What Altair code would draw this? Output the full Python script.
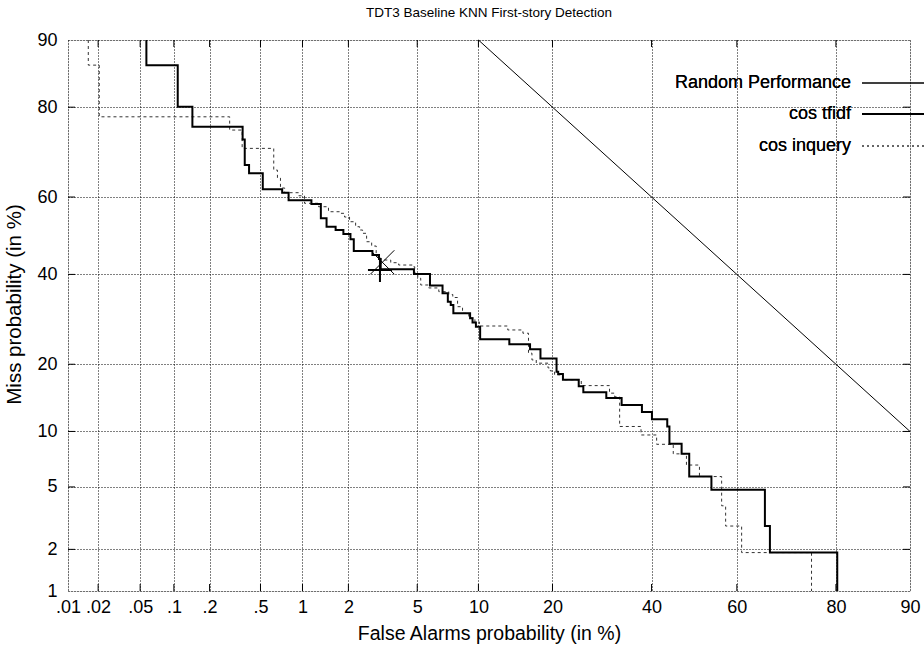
import altair as alt
import pandas as pd
from statistics import NormalDist

_norm = NormalDist()


def deviate(pct):
    """Normal deviate of a probability given in percent (DET axis warping)."""
    return _norm.inv_cdf(pct / 100.0)


# ---- axis ranges and ticks (percent) ----
fa_range = [0.01, 90.0]
miss_range = [1.0, 90.0]
x_ticks = [0.01, 0.02, 0.05, 0.1, 0.2, 0.5, 1, 2, 5, 10, 20, 40, 60, 80, 90]
x_tick_labels = [".01", ".02", ".05", ".1", ".2", ".5", "1", "2", "5",
                 "10", "20", "40", "60", "80", "90"]
y_ticks = [1, 2, 5, 10, 20, 40, 60, 80, 90]
y_tick_labels = ["1", "2", "5", "10", "20", "40", "60", "80", "90"]

# ---- DET curves: false alarm % / miss % at each step corner ----
tfidf_fa = [0.057, 0.108, 0.144, 0.366, 0.38, 0.41, 0.52, 0.72, 0.80, 1.15,
            1.33, 1.45, 1.66, 1.86, 2.06, 2.16, 2.80, 3.06, 3.13, 4.8,
            5.83, 6.75, 7.17, 7.41, 7.63, 9.16, 9.40, 9.74, 10.18, 13.61,
            16.48, 18.06, 20.68, 20.96, 21.78, 24.64, 25.51, 30.08, 33.32, 37.81,
            40.09, 43.64, 44.15, 47.02, 48.82, 54.07, 66.27, 67.35, 80.22, 80.22]
tfidf_miss = [90.0, 86.8, 80.1, 76.22, 73.58, 67.81, 65.85, 61.94, 61.09, 59.16,
              58.22, 54.56, 52.35, 51.49, 50.44, 49.06, 46.01, 44.98, 43.94, 41.3,
              40.11, 37.23, 35.32, 33.30, 32.52, 30.57, 29.45, 28.47, 27.57, 24.9,
              23.86, 22.88, 21.07, 18.67, 18.27, 17.27, 16.22, 15.28, 14.38, 13.39,
              12.41, 11.47, 10.58, 8.65, 7.66, 5.74, 4.81, 2.865, 1.90, 1.0]

inquery_fa = [0.016, 0.0205, 0.290, 0.363, 0.626, 0.666, 0.70, 0.75, 0.942, 1.032,
              1.283, 1.493, 1.786, 1.892, 2.033, 2.217, 2.345, 2.445, 2.585, 2.771,
              2.946, 3.127, 3.575, 3.961, 4.728, 4.846, 5.029, 5.217, 5.745, 6.464,
              7.247, 7.582, 7.995, 8.443, 9.035, 9.639, 10.10, 13.41, 15.45, 16.25,
              16.76, 17.41, 19.26, 19.64, 20.35, 21.78, 25.12, 30.75, 31.82, 32.89,
              37.6, 41.17, 45.05, 48.16, 51.24, 56.47, 57.4, 61.09, 75.7, 75.7]
inquery_miss = [90.0, 86.8, 78.19, 75.55, 71.63, 66.63, 64.71, 62.27, 61.09, 60.32,
                58.41, 57.53, 56.24, 55.83, 54.87, 53.65, 52.35, 51.49, 50.63, 48.43,
                47.31, 44.72, 43.68, 42.99, 42.39, 41.95, 40.29, 39.02, 37.35, 36.62,
                35.71, 35.02, 34.29, 32.11, 30.57, 29.52, 28.62, 27.72, 26.86, 26.16,
                22.09, 20.80, 20.20, 19.34, 18.80, 18.10, 17.27, 16.32, 15.13, 14.58,
                10.58, 9.60, 8.6, 7.66, 6.66, 5.74, 3.85, 2.865, 1.90, 1.0]

random_fa = [10.0, 90.0]
random_miss = [90.0, 10.0]

# minimum detection-cost operating points
min_cost_tfidf = {"fa": 3.10, "miss": 41.1}
min_cost_inquery = {"fa": 3.20, "miss": 43.1}

series_names = ["Random Performance", "cos tfidf", "cos inquery"]


def frame(fa, miss):
    return pd.DataFrame({
        "i": range(len(fa)),
        "fa": fa,
        "miss": miss,
        "zx": [deviate(v) for v in fa],
        "zy": [deviate(v) for v in miss],
    })


tfidf_df = frame(tfidf_fa, tfidf_miss)
inquery_df = frame(inquery_fa, inquery_miss)
random_df = frame(random_fa, random_miss)
cost_tfidf_df = frame([min_cost_tfidf["fa"]], [min_cost_tfidf["miss"]])
cost_inquery_df = frame([min_cost_inquery["fa"]], [min_cost_inquery["miss"]])

x_inner = pd.DataFrame({"zx": [deviate(v) for v in x_ticks[1:-1]]})
y_inner = pd.DataFrame({"zy": [deviate(v) for v in y_ticks[1:-1]]})

W, H = 842, 551
FONT = "Liberation Sans"


def label_expr(values, labels):
    expr = "''"
    for v, lab in reversed(list(zip(values, labels))):
        expr = f"abs(datum.value - ({deviate(v):.6f})) < 0.001 ? '{lab}' : ({expr})"
    return expr


x_scale = alt.Scale(domain=[deviate(fa_range[0]), deviate(fa_range[1])], nice=False, zero=False)
y_scale = alt.Scale(domain=[deviate(miss_range[0]), deviate(miss_range[1])], nice=False, zero=False)

x_axis = alt.Axis(
    values=[deviate(v) for v in x_ticks],
    labelExpr=label_expr(x_ticks, x_tick_labels),
    title="False Alarms probability (in %)",
    grid=True, ticks=False, domain=False,
    labelFont=FONT, labelFontSize=18, labelColor="black", labelPadding=7,
    labelFlush=False, labelOverlap=False,
    titleFont=FONT, titleFontSize=19.5, titleFontWeight="normal", titleColor="black",
    titleBaseline="middle", titleY=42,
    gridColor="black", gridDash=[1, 2], gridWidth=1, gridOpacity=1,
)
y_axis = alt.Axis(
    values=[deviate(v) for v in y_ticks],
    labelExpr=label_expr(y_ticks, y_tick_labels),
    title="Miss probability (in %)",
    grid=True, ticks=False, domain=False,
    labelFont=FONT, labelFontSize=18, labelColor="black", labelPadding=11,
    labelFlush=False, labelOverlap=False,
    titleFont=FONT, titleFontSize=20.5, titleFontWeight="normal", titleColor="black",
    titleX=-54, titleY=264, titleBaseline="middle", titleAngle=-90,
    gridColor="black", gridDash=[1, 2], gridWidth=1, gridOpacity=1,
)


def X():
    return alt.X("zx:Q", scale=x_scale, axis=x_axis)


def Y():
    return alt.Y("zy:Q", scale=y_scale, axis=y_axis)


random_line = alt.Chart(random_df).mark_line(color="black", strokeWidth=1).encode(
    x=X(), y=Y(), order="i:Q")

inquery_line = alt.Chart(inquery_df).mark_line(
    color="#333333", strokeWidth=1, strokeDash=[3, 3], interpolate="step-before"
).encode(x=X(), y=Y(), order="i:Q")

tfidf_line = alt.Chart(tfidf_df).mark_line(
    color="black", strokeWidth=2, interpolate="step-before"
).encode(x=X(), y=Y(), order="i:Q")

plus_mark = alt.Chart(cost_tfidf_df).mark_point(
    shape="M-1,0L1,0M0,-1L0,1", size=576, filled=False, color="black", strokeWidth=2, opacity=1
).encode(x=X(), y=Y())

cross_mark = alt.Chart(cost_inquery_df).mark_point(
    shape="M-1,-1L1,1M-1,1L1,-1", size=576, filled=False, color="black", strokeWidth=1, opacity=1
).encode(x=X(), y=Y())

# inward tick marks on all four sides of the frame
TICK = 7
tick_bottom = alt.Chart(x_inner).mark_rule(color="black", strokeWidth=1).encode(
    x=X(), y=alt.value(H), y2=alt.value(H - TICK))
tick_top = alt.Chart(x_inner).mark_rule(color="black", strokeWidth=1).encode(
    x=X(), y=alt.value(0), y2=alt.value(TICK))
tick_left = alt.Chart(y_inner).mark_rule(color="black", strokeWidth=1).encode(
    y=Y(), x=alt.value(0), x2=alt.value(TICK))
tick_right = alt.Chart(y_inner).mark_rule(color="black", strokeWidth=1).encode(
    y=Y(), x=alt.value(W), x2=alt.value(W - TICK))

# key in the upper right corner
KEY_TEXT_X, KEY_LINE_X0, KEY_LINE_X1 = 783, 794, 856
key_rows = [43, 74, 106]
key_styles = [
    {"color": "black", "strokeWidth": 1},
    {"color": "black", "strokeWidth": 2},
    {"color": "#333333", "strokeWidth": 1, "strokeDash": [2, 3]},
]
key_layers = []
for name, ky, style in zip(series_names, key_rows, key_styles):
    key_layers.append(
        alt.Chart(random_df).mark_text(
            align="right", baseline="middle", font=FONT, fontSize=18, color="black"
        ).encode(x=alt.value(KEY_TEXT_X), y=alt.value(ky), text=alt.value(name))
    )
    key_layers.append(
        alt.Chart(random_df).mark_rule(**style).encode(
            x=alt.value(KEY_LINE_X0), x2=alt.value(KEY_LINE_X1), y=alt.value(ky))
    )

chart = alt.layer(
    random_line, inquery_line, tfidf_line, plus_mark, cross_mark,
    tick_bottom, tick_top, tick_left, tick_right, *key_layers,
).properties(
    width=W, height=H,
    title=alt.TitleParams(
        "TDT3 Baseline KNN First-story Detection",
        font=FONT, fontSize=13.5, fontWeight="normal", color="black",
        anchor="middle", offset=12,
    ),
    padding={"left": 68, "top": 40, "right": 14, "bottom": 61},
    autosize=alt.AutoSizeParams(type="none"),
).configure_view(
    stroke="black", strokeWidth=1.5, fill="white"
).configure(background="white")

chart.save("out.html", embed_options={"renderer": "svg", "actions": False})
